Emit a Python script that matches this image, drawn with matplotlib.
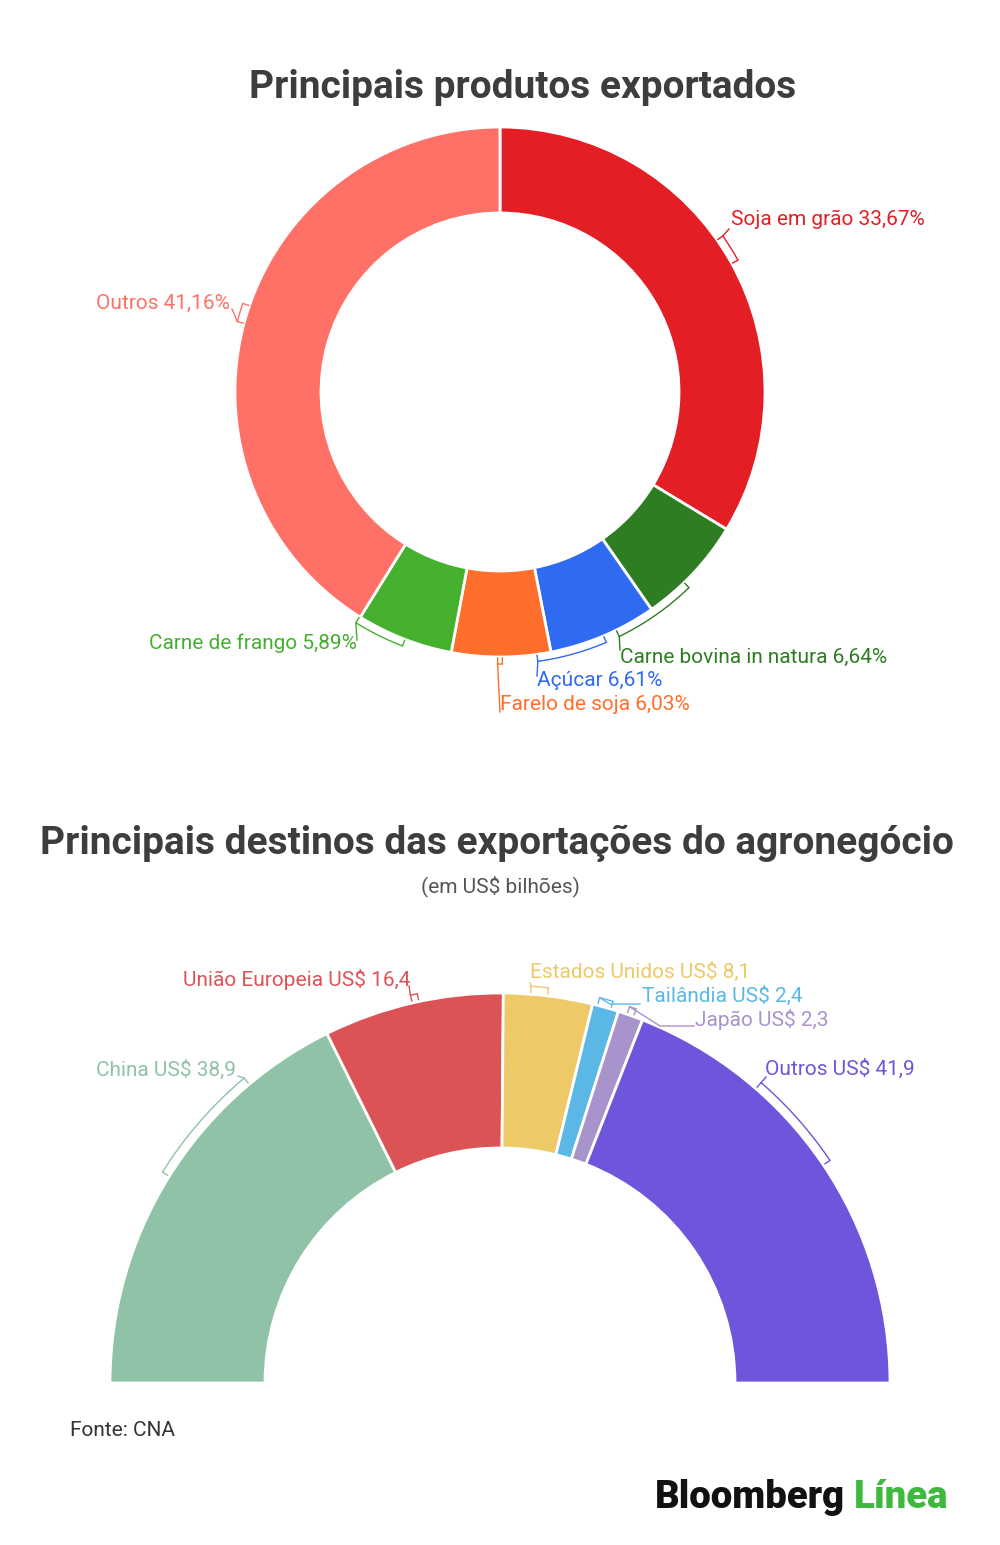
import numpy as np
import matplotlib
matplotlib.use('Agg')
import matplotlib.pyplot as plt

plt.rcParams['font.family'] = ['Roboto', 'DejaVu Sans']

# dados - produtos
produtos = ['Soja em grão', 'Carne bovina in natura', 'Açúcar', 'Farelo de soja', 'Carne de frango', 'Outros']
produtos_pct = [33.67, 6.64, 6.61, 6.03, 5.89, 41.16]
cores_prod = ['#E31E24', '#2E7D22', '#2F6BF0', '#FF6F2B', '#44B02E', '#FF7167']

# dados - destinos (US$ bilhões)
destinos = ['China', 'União Europeia', 'Estados Unidos', 'Tailândia', 'Japão', 'Outros']
destinos_val = [38.9, 16.4, 8.1, 2.4, 2.3, 41.9]
cores_dest = ['#8FC2A6', '#DC5356', '#EDC967', '#5BB8E6', '#A993CC', '#6E55DC']

W, H = 1000, 1545
fig = plt.figure(figsize=(W / 100, H / 100), dpi=100)
ax = fig.add_axes([0, 0, 1, 1])


def Y(y):
    return H - y


# donut de cima
c1 = (500, Y(392))
R1 = 265
ax.pie(produtos_pct, center=c1, radius=R1, startangle=90, counterclock=False,
       colors=cores_prod, wedgeprops=dict(width=86, edgecolor='white', linewidth=2))

# meia rosca de baixo
c2 = (500, Y(1383))
R2 = 390
total = sum(destinos_val)
ax.pie([v / total * 0.5 for v in destinos_val], normalize=False, center=c2, radius=R2,
       startangle=180, counterclock=False, colors=cores_dest,
       wedgeprops=dict(width=155, edgecolor='white', linewidth=2))

ax.set_xlim(0, W)
ax.set_ylim(0, H)
ax.set_aspect('equal')
ax.axis('off')


def pt(c, r, a):
    return c[0] + r * np.cos(np.radians(a)), c[1] + r * np.sin(np.radians(a))


def bracket(c, r, a1, a2, cor, leader):
    # arco + tracinhos nas pontas + linha ate o texto
    t = np.linspace(a1, a2, 40)
    xs = c[0] + r * np.cos(np.radians(t))
    ys = c[1] + r * np.sin(np.radians(t))
    ax.plot(xs, ys, color=cor, lw=1, solid_capstyle='butt')
    for a in (a1, a2):
        p1 = pt(c, r, a)
        p2 = pt(c, r - 6, a)
        ax.plot([p1[0], p2[0]], [p1[1], p2[1]], color=cor, lw=1)
    p = pt(c, r, a2)
    lx = [p[0]] + [q[0] for q in leader]
    ly = [p[1]] + [Y(q[1]) for q in leader]
    ax.plot(lx, ly, color=cor, lw=1)


fs = 15
# rótulos de cima: (bracket a1, a2, leader pts, texto x, y, ha)
lay1 = [
    (29, 35, [(729, 229)], 731, 219, 'left'),
    (-46, -64, [(620, 650)], 620, 657, 'left'),
    (-67, -82, [(537, 676)], 537, 681, 'left'),
    (-89.5, -90.5, [(500, 712)], 500, 705, 'left'),
    (-111, -122, [(357, 640)], 357, 643, 'right'),
    (161, 165, [(232, 309)], 230, 303, 'right'),
]
for nome, v, cor, (a1, a2, ld, tx, ty, ha) in zip(produtos, produtos_pct, cores_prod, lay1):
    bracket(c1, 272, a1, a2, cor, ld)
    ax.text(tx, Y(ty), f'{nome} {v:.2f}%'.replace('.', ','), color=cor, fontsize=fs,
            ha=ha, va='center')

lay2 = [
    (148, 130, [(238, 1076)], 236, 1070, 'right'),
    (102, 103, [(409, 986)], 410, 980, 'right'),
    (83, 85.5, [(530, 983)], 530, 972, 'left'),
    (73.5, 75.5, [(610, 1004), (640, 1004)], 642, 996, 'left'),
    (70, 71, [(660, 1026), (694, 1026)], 695, 1020, 'left'),
    (34, 49, [(766, 1077)], 765, 1069, 'left'),
]
for nome, v, cor, (a1, a2, ld, tx, ty, ha) in zip(destinos, destinos_val, cores_dest, lay2):
    bracket(c2, 398, a1, a2, cor, ld)
    ax.text(tx, Y(ty), f'{nome} US$ {v:.1f}'.replace('.', ','), color=cor, fontsize=fs,
            ha=ha, va='center')

# títulos
ax.text(523, Y(87), 'Principais produtos exportados', fontsize=28, fontweight='bold',
        color='#3d3d3d', ha='center', va='center')
ax.text(497, Y(843), 'Principais destinos das exportações do agronegócio', fontsize=28,
        fontweight='bold', color='#3d3d3d', ha='center', va='center')
ax.text(500, Y(886), '(em US$ bilhões)', fontsize=15, color='#555555', ha='center', va='center')
ax.text(70, Y(1430), 'Fonte: CNA', fontsize=15, color='#333333', ha='left', va='center')

# logo
ax.text(655, Y(1497), 'Bloomberg', fontsize=27.5, fontweight='heavy', color='#111111',
        ha='left', va='center')
ax.text(948, Y(1497), 'Línea', fontsize=27.5, fontweight='heavy', color='#3DBA3D',
        ha='right', va='center')

fig.savefig('out.png', dpi=100, facecolor='white')
